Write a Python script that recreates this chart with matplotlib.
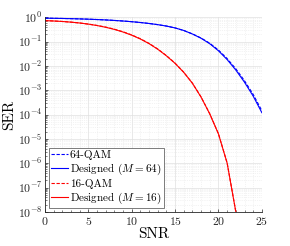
import numpy as np
import matplotlib
matplotlib.use("Agg")
import matplotlib.pyplot as plt
from matplotlib.ticker import LogLocator, LogFormatterMathtext, MultipleLocator, NullFormatter

plt.rcParams['font.family'] = ['cmr10', 'DejaVu Serif']
plt.rcParams['mathtext.fontset'] = 'cm'
plt.rcParams['axes.formatter.use_mathtext'] = True
plt.rcParams['axes.unicode_minus'] = False

snr = [0, 1, 2, 3, 4, 5, 6, 7, 8, 9, 10, 11, 12, 13, 14, 15, 16, 17, 18, 19, 20, 21, 22, 23, 24, 25]

# log10(SER)
log_ser_64qam = [-0.04, -0.045, -0.051, -0.059, -0.069, -0.081, -0.095, -0.112, -0.132, -0.156,
                 -0.184, -0.217, -0.257, -0.305, -0.363, -0.44, -0.545, -0.685, -0.855, -1.07,
                 -1.35, -1.70, -2.12, -2.61, -3.17, -3.84]
log_ser_des64 = [-0.04, -0.045, -0.051, -0.059, -0.069, -0.081, -0.095, -0.112, -0.132, -0.156,
                 -0.184, -0.217, -0.257, -0.305, -0.363, -0.44, -0.545, -0.69, -0.865, -1.09,
                 -1.38, -1.74, -2.17, -2.67, -3.24, -3.92]
snr16 = [0, 1, 2, 3, 4, 5, 6, 7, 8, 9, 10, 11, 12, 13, 14, 15, 16, 17, 18, 19, 20, 21, 22, 23]
log_ser_16qam = [-0.14, -0.155, -0.175, -0.202, -0.237, -0.283, -0.338, -0.405, -0.49, -0.597,
                 -0.727, -0.884, -1.075, -1.305, -1.577, -1.888, -2.26, -2.71, -3.28, -3.97,
                 -4.79, -5.99, -7.99, -10.5]
log_ser_des16 = [-0.14, -0.155, -0.175, -0.202, -0.237, -0.283, -0.341, -0.413, -0.501, -0.608,
                 -0.738, -0.895, -1.085, -1.315, -1.585, -1.895, -2.265, -2.715, -3.285, -3.975,
                 -4.795, -5.995, -7.995, -10.5]

xticks = [0, 5, 10, 15, 20, 25]

fig = plt.figure(figsize=(2.9, 2.46), dpi=100)
ax = fig.add_axes([0.155, 0.138, 0.748, 0.792])

ax.semilogy(snr, 10.0 ** np.array(log_ser_64qam), '--', color='#0000ff', lw=0.8,
            dashes=(3, 1.5), label='64-QAM')
ax.semilogy(snr, 10.0 ** np.array(log_ser_des64), '-', color='#0000ff', lw=0.8,
            label=r'Designed ($M=64$)')
ax.semilogy(snr16, 10.0 ** np.array(log_ser_16qam), '--', color='#ff0000', lw=0.8,
            dashes=(3, 1.5), label='16-QAM')
ax.semilogy(snr16, 10.0 ** np.array(log_ser_des16), '-', color='#ff0000', lw=0.8,
            label=r'Designed ($M=16$)')

ax.set_xlim(0, 25)
ax.set_ylim(1e-8, 1)
ax.set_xticks(xticks)
ax.xaxis.set_minor_locator(MultipleLocator(1))
ax.yaxis.set_major_locator(LogLocator(base=10, numticks=20))
ax.yaxis.set_major_formatter(LogFormatterMathtext())
ax.yaxis.set_minor_locator(LogLocator(base=10, subs=np.arange(2, 10), numticks=20))
ax.yaxis.set_minor_formatter(NullFormatter())

ax.grid(True, which='major', color='#e0e0e0', lw=0.5)
ax.grid(True, which='minor', color='#e8e8e8', lw=0.5, ls=':')
ax.set_axisbelow(True)

for s in ['top', 'right']:
    ax.spines[s].set_visible(False)
for s in ['left', 'bottom']:
    ax.spines[s].set_color('#262626')
    ax.spines[s].set_linewidth(0.6)

ax.tick_params(which='both', direction='in', colors='#262626', labelsize=8.5, pad=2)
ax.tick_params(which='major', length=2.5, width=0.5)
ax.tick_params(which='minor', length=1.2, width=0.4)

ax.set_xlabel('SNR', fontsize=11, labelpad=0)
ax.set_ylabel('SER', fontsize=11, labelpad=1)

leg = ax.legend(loc='lower left', fontsize=8.0, frameon=True, fancybox=False,
                edgecolor='#666666', handlelength=1.55, handletextpad=0.15,
                borderpad=0.2, labelspacing=0.15, borderaxespad=0.35, framealpha=1)
leg.get_frame().set_linewidth(0.6)

fig.savefig('out.png', dpi=100)
